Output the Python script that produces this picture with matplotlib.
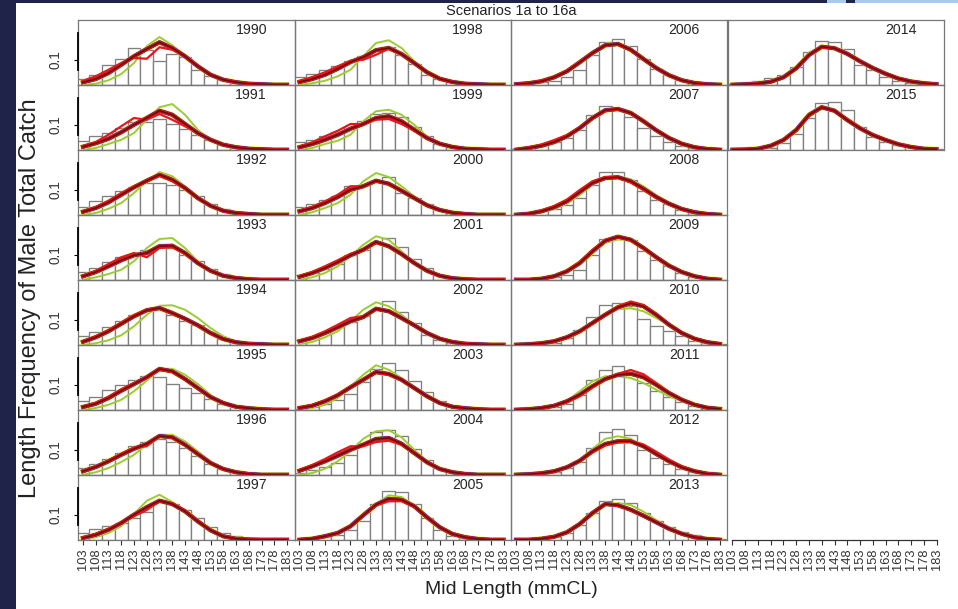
import matplotlib.pyplot as plt
from matplotlib.patches import Rectangle

plt.rcParams['font.family'] = ['Liberation Sans', 'DejaVu Sans']

W, H = 958, 609

# length bins (mm carapace length) and survey years
lengths = [103, 108, 113, 118, 123, 128, 133, 138, 143, 148, 153, 158, 163, 168, 173, 178, 183]
years = list(range(1990, 2016))

# observed proportions at length, one row per year
obs_freq = [
    [0.024, 0.041, 0.082, 0.106, 0.148, 0.140, 0.095, 0.124, 0.114, 0.062, 0.035, 0.021, 0.011, 0.005, 0.003, 0.001, 0.001],  # 1990
    [0.037, 0.056, 0.067, 0.089, 0.113, 0.111, 0.125, 0.105, 0.083, 0.062, 0.040, 0.022, 0.012, 0.006, 0.003, 0.001, 0.001],  # 1991
    [0.033, 0.055, 0.075, 0.095, 0.112, 0.128, 0.128, 0.121, 0.101, 0.075, 0.045, 0.024, 0.012, 0.005, 0.003, 0.001, 0.001],  # 1992
    [0.032, 0.048, 0.072, 0.091, 0.101, 0.121, 0.131, 0.128, 0.101, 0.075, 0.045, 0.024, 0.011, 0.005, 0.003, 0.001, 0.001],  # 1993
    [0.035, 0.051, 0.071, 0.095, 0.121, 0.135, 0.141, 0.119, 0.097, 0.081, 0.051, 0.024, 0.011, 0.004, 0.002, 0.001, 0.001],  # 1994
    [0.035, 0.052, 0.079, 0.101, 0.121, 0.137, 0.132, 0.105, 0.088, 0.068, 0.044, 0.024, 0.011, 0.004, 0.002, 0.001, 0.001],  # 1995
    [0.028, 0.045, 0.064, 0.088, 0.115, 0.131, 0.145, 0.132, 0.108, 0.077, 0.045, 0.024, 0.011, 0.004, 0.002, 0.001, 0.001],  # 1996
    [0.030, 0.043, 0.057, 0.069, 0.089, 0.111, 0.153, 0.144, 0.120, 0.090, 0.053, 0.030, 0.015, 0.006, 0.002, 0.001, 0.001],  # 1997
    [0.031, 0.044, 0.059, 0.075, 0.095, 0.115, 0.138, 0.151, 0.121, 0.084, 0.041, 0.024, 0.012, 0.005, 0.002, 0.001, 0.001],  # 1998
    [0.031, 0.041, 0.055, 0.071, 0.088, 0.115, 0.145, 0.148, 0.131, 0.092, 0.055, 0.024, 0.011, 0.004, 0.002, 0.001, 0.001],  # 1999
    [0.031, 0.045, 0.061, 0.077, 0.115, 0.121, 0.135, 0.151, 0.090, 0.070, 0.045, 0.022, 0.011, 0.005, 0.002, 0.001, 0.001],  # 2000
    [0.021, 0.028, 0.045, 0.065, 0.099, 0.121, 0.152, 0.167, 0.133, 0.085, 0.047, 0.021, 0.010, 0.004, 0.002, 0.001, 0.001],  # 2001
    [0.021, 0.031, 0.048, 0.071, 0.092, 0.115, 0.140, 0.177, 0.132, 0.088, 0.041, 0.021, 0.010, 0.004, 0.002, 0.001, 0.001],  # 2002
    [0.004, 0.011, 0.024, 0.039, 0.065, 0.111, 0.165, 0.188, 0.161, 0.115, 0.071, 0.035, 0.015, 0.006, 0.002, 0.001, 0.001],  # 2003
    [0.008, 0.021, 0.032, 0.048, 0.081, 0.128, 0.172, 0.179, 0.155, 0.104, 0.059, 0.028, 0.012, 0.004, 0.002, 0.001, 0.001],  # 2004
    [0.001, 0.005, 0.011, 0.021, 0.039, 0.075, 0.144, 0.197, 0.191, 0.145, 0.088, 0.041, 0.017, 0.007, 0.003, 0.001, 0.001],  # 2005
    [0.001, 0.004, 0.011, 0.017, 0.031, 0.061, 0.121, 0.172, 0.185, 0.155, 0.104, 0.065, 0.041, 0.021, 0.011, 0.005, 0.002],  # 2006
    [0.003, 0.011, 0.021, 0.032, 0.048, 0.081, 0.139, 0.177, 0.163, 0.133, 0.087, 0.056, 0.033, 0.017, 0.008, 0.003, 0.001],  # 2007
    [0.002, 0.008, 0.019, 0.024, 0.039, 0.068, 0.121, 0.172, 0.172, 0.141, 0.097, 0.061, 0.045, 0.021, 0.008, 0.003, 0.001],  # 2008
    [0.001, 0.002, 0.004, 0.011, 0.021, 0.041, 0.101, 0.164, 0.177, 0.161, 0.115, 0.081, 0.055, 0.028, 0.012, 0.004, 0.002],  # 2009
    [0.001, 0.002, 0.004, 0.008, 0.028, 0.061, 0.111, 0.159, 0.168, 0.155, 0.105, 0.075, 0.055, 0.035, 0.017, 0.008, 0.003],  # 2010
    [0.001, 0.002, 0.004, 0.011, 0.024, 0.061, 0.121, 0.161, 0.175, 0.145, 0.108, 0.075, 0.051, 0.032, 0.015, 0.005, 0.002],  # 2011
    [0.001, 0.002, 0.004, 0.011, 0.028, 0.052, 0.108, 0.171, 0.184, 0.159, 0.101, 0.068, 0.045, 0.024, 0.011, 0.004, 0.002],  # 2012
    [0.001, 0.002, 0.005, 0.013, 0.030, 0.060, 0.109, 0.157, 0.164, 0.147, 0.107, 0.077, 0.053, 0.033, 0.020, 0.009, 0.005],  # 2013
    [0.004, 0.009, 0.017, 0.027, 0.040, 0.073, 0.133, 0.177, 0.173, 0.144, 0.080, 0.061, 0.033, 0.017, 0.009, 0.004, 0.002],  # 2014
    [0.001, 0.002, 0.004, 0.010, 0.029, 0.063, 0.127, 0.187, 0.193, 0.160, 0.093, 0.053, 0.033, 0.020, 0.012, 0.006, 0.003],  # 2015
]

# predicted proportions, main bundle of scenarios
fit_freq = [
    [0.011, 0.024, 0.048, 0.081, 0.115, 0.144, 0.171, 0.148, 0.115, 0.075, 0.041, 0.021, 0.011, 0.005, 0.003, 0.001, 0.001],  # 1990
    [0.013, 0.027, 0.045, 0.071, 0.101, 0.128, 0.157, 0.141, 0.104, 0.068, 0.041, 0.021, 0.011, 0.005, 0.003, 0.001, 0.001],  # 1991
    [0.013, 0.028, 0.051, 0.081, 0.111, 0.137, 0.161, 0.141, 0.108, 0.068, 0.037, 0.017, 0.008, 0.004, 0.001, 0.001, 0.001],  # 1992
    [0.015, 0.032, 0.055, 0.079, 0.099, 0.108, 0.135, 0.137, 0.108, 0.068, 0.037, 0.017, 0.008, 0.003, 0.001, 0.001, 0.001],  # 1993
    [0.013, 0.031, 0.055, 0.085, 0.115, 0.139, 0.148, 0.128, 0.105, 0.079, 0.048, 0.024, 0.011, 0.005, 0.003, 0.001, 0.001],  # 1994
    [0.012, 0.025, 0.048, 0.077, 0.104, 0.131, 0.164, 0.155, 0.124, 0.088, 0.052, 0.028, 0.013, 0.007, 0.003, 0.001, 0.001],  # 1995
    [0.015, 0.032, 0.055, 0.081, 0.105, 0.124, 0.156, 0.151, 0.121, 0.084, 0.048, 0.024, 0.011, 0.004, 0.001, 0.001, 0.001],  # 1996
    [0.008, 0.021, 0.041, 0.068, 0.101, 0.131, 0.157, 0.144, 0.115, 0.075, 0.039, 0.015, 0.005, 0.002, 0.001, 0.001, 0.001],  # 1997
    [0.012, 0.024, 0.041, 0.065, 0.092, 0.111, 0.139, 0.148, 0.124, 0.088, 0.051, 0.025, 0.012, 0.005, 0.003, 0.001, 0.001],  # 1998
    [0.011, 0.024, 0.041, 0.061, 0.085, 0.104, 0.128, 0.135, 0.115, 0.081, 0.048, 0.025, 0.012, 0.005, 0.003, 0.001, 0.001],  # 1999
    [0.015, 0.028, 0.048, 0.072, 0.101, 0.115, 0.137, 0.125, 0.097, 0.068, 0.039, 0.020, 0.009, 0.004, 0.001, 0.001, 0.001],  # 2000
    [0.013, 0.028, 0.048, 0.072, 0.099, 0.121, 0.152, 0.135, 0.104, 0.068, 0.037, 0.017, 0.007, 0.003, 0.001, 0.001, 0.001],  # 2001
    [0.015, 0.028, 0.048, 0.071, 0.095, 0.112, 0.145, 0.135, 0.108, 0.079, 0.048, 0.025, 0.012, 0.005, 0.003, 0.001, 0.001],  # 2002
    [0.008, 0.017, 0.035, 0.059, 0.091, 0.121, 0.152, 0.144, 0.121, 0.088, 0.055, 0.028, 0.013, 0.007, 0.003, 0.001, 0.001],  # 2003
    [0.017, 0.035, 0.055, 0.077, 0.101, 0.121, 0.144, 0.148, 0.125, 0.088, 0.051, 0.024, 0.011, 0.004, 0.001, 0.001, 0.001],  # 2004
    [0.001, 0.005, 0.015, 0.028, 0.055, 0.099, 0.141, 0.165, 0.161, 0.135, 0.091, 0.051, 0.024, 0.011, 0.004, 0.001, 0.001],  # 2005
    [0.003, 0.007, 0.015, 0.031, 0.055, 0.091, 0.128, 0.159, 0.164, 0.141, 0.104, 0.068, 0.039, 0.019, 0.008, 0.003, 0.001],  # 2006
    [0.001, 0.008, 0.017, 0.032, 0.055, 0.088, 0.128, 0.159, 0.164, 0.148, 0.115, 0.079, 0.048, 0.025, 0.011, 0.004, 0.001],  # 2007
    [0.001, 0.005, 0.015, 0.031, 0.055, 0.092, 0.128, 0.148, 0.151, 0.135, 0.105, 0.072, 0.045, 0.024, 0.011, 0.004, 0.001],  # 2008
    [0.001, 0.001, 0.005, 0.015, 0.035, 0.068, 0.115, 0.157, 0.173, 0.161, 0.128, 0.091, 0.057, 0.032, 0.015, 0.005, 0.001],  # 2009
    [0.001, 0.003, 0.007, 0.015, 0.031, 0.055, 0.088, 0.121, 0.151, 0.167, 0.155, 0.121, 0.081, 0.048, 0.025, 0.011, 0.004],  # 2010
    [0.001, 0.003, 0.008, 0.017, 0.035, 0.061, 0.095, 0.124, 0.141, 0.145, 0.131, 0.101, 0.068, 0.041, 0.021, 0.009, 0.004],  # 2011
    [0.001, 0.003, 0.007, 0.015, 0.031, 0.057, 0.095, 0.124, 0.135, 0.135, 0.115, 0.084, 0.055, 0.031, 0.015, 0.005, 0.001],  # 2012
    [0.001, 0.001, 0.005, 0.013, 0.031, 0.064, 0.108, 0.144, 0.139, 0.121, 0.097, 0.071, 0.045, 0.025, 0.011, 0.004, 0.001],  # 2013
    [0.001, 0.003, 0.006, 0.013, 0.031, 0.067, 0.120, 0.153, 0.147, 0.125, 0.095, 0.068, 0.045, 0.026, 0.014, 0.007, 0.003],  # 2014
    [0.001, 0.002, 0.005, 0.017, 0.040, 0.080, 0.140, 0.171, 0.157, 0.120, 0.087, 0.060, 0.040, 0.023, 0.012, 0.005, 0.003],  # 2015
]

# scenario drawn in yellow-green
green_freq = [
    [0.001, 0.005, 0.019, 0.044, 0.088, 0.155, 0.192, 0.159, 0.119, 0.071, 0.039, 0.019, 0.008, 0.004, 0.001, 0.001, 0.001],  # 1990
    [0.001, 0.008, 0.024, 0.041, 0.068, 0.121, 0.171, 0.184, 0.141, 0.081, 0.041, 0.019, 0.008, 0.004, 0.001, 0.001, 0.001],  # 1991
    [0.001, 0.008, 0.025, 0.048, 0.088, 0.135, 0.172, 0.155, 0.115, 0.068, 0.035, 0.016, 0.007, 0.003, 0.001, 0.001, 0.001],  # 1992
    [0.001, 0.011, 0.024, 0.041, 0.075, 0.128, 0.164, 0.168, 0.128, 0.075, 0.035, 0.013, 0.005, 0.003, 0.001, 0.001, 0.001],  # 1993
    [0.001, 0.007, 0.019, 0.039, 0.075, 0.121, 0.157, 0.159, 0.141, 0.108, 0.068, 0.035, 0.015, 0.005, 0.003, 0.001, 0.001],  # 1994
    [0.001, 0.008, 0.021, 0.041, 0.075, 0.117, 0.165, 0.165, 0.141, 0.104, 0.061, 0.028, 0.011, 0.004, 0.001, 0.001, 0.001],  # 1995
    [0.001, 0.011, 0.028, 0.052, 0.081, 0.121, 0.161, 0.161, 0.135, 0.095, 0.055, 0.025, 0.009, 0.004, 0.001, 0.001, 0.001],  # 1996
    [0.001, 0.011, 0.028, 0.055, 0.104, 0.157, 0.181, 0.152, 0.108, 0.068, 0.035, 0.013, 0.005, 0.002, 0.001, 0.001, 0.001],  # 1997
    [0.001, 0.007, 0.017, 0.035, 0.061, 0.115, 0.168, 0.179, 0.148, 0.095, 0.048, 0.021, 0.009, 0.004, 0.001, 0.001, 0.001],  # 1998
    [0.001, 0.008, 0.024, 0.037, 0.061, 0.115, 0.155, 0.161, 0.141, 0.101, 0.055, 0.024, 0.009, 0.004, 0.001, 0.001, 0.001],  # 1999
    [0.001, 0.011, 0.028, 0.048, 0.081, 0.135, 0.168, 0.152, 0.115, 0.075, 0.039, 0.017, 0.008, 0.003, 0.001, 0.001, 0.001],  # 2000
    [0.001, 0.011, 0.028, 0.055, 0.095, 0.141, 0.175, 0.161, 0.115, 0.068, 0.035, 0.015, 0.005, 0.003, 0.001, 0.001, 0.001],  # 2001
    [0.004, 0.012, 0.031, 0.055, 0.095, 0.141, 0.171, 0.155, 0.121, 0.081, 0.044, 0.021, 0.009, 0.004, 0.001, 0.001, 0.001],  # 2002
    [0.003, 0.008, 0.021, 0.048, 0.095, 0.141, 0.179, 0.161, 0.128, 0.088, 0.051, 0.024, 0.011, 0.004, 0.001, 0.001, 0.001],  # 2003
    [0.001, 0.008, 0.025, 0.055, 0.095, 0.145, 0.175, 0.179, 0.151, 0.101, 0.055, 0.024, 0.009, 0.004, 0.001, 0.001, 0.001],  # 2004
    [0.001, 0.003, 0.011, 0.024, 0.048, 0.095, 0.145, 0.179, 0.172, 0.140, 0.091, 0.048, 0.021, 0.008, 0.003, 0.001, 0.001],  # 2005
    [0.002, 0.005, 0.012, 0.027, 0.052, 0.088, 0.125, 0.157, 0.166, 0.145, 0.107, 0.070, 0.040, 0.020, 0.008, 0.003, 0.001],  # 2006
    [0.001, 0.006, 0.014, 0.028, 0.052, 0.088, 0.130, 0.160, 0.165, 0.148, 0.115, 0.080, 0.049, 0.026, 0.011, 0.004, 0.001],  # 2007
    [0.001, 0.003, 0.010, 0.023, 0.045, 0.080, 0.120, 0.148, 0.155, 0.143, 0.115, 0.080, 0.050, 0.027, 0.012, 0.005, 0.002],  # 2008
    [0.001, 0.001, 0.004, 0.012, 0.030, 0.060, 0.105, 0.148, 0.162, 0.158, 0.130, 0.095, 0.062, 0.035, 0.017, 0.006, 0.002],  # 2009
    [0.001, 0.003, 0.008, 0.017, 0.034, 0.060, 0.093, 0.122, 0.143, 0.147, 0.135, 0.108, 0.078, 0.050, 0.028, 0.013, 0.005],  # 2010
    [0.001, 0.003, 0.008, 0.020, 0.037, 0.075, 0.115, 0.135, 0.135, 0.128, 0.108, 0.081, 0.055, 0.035, 0.019, 0.009, 0.004],  # 2011
    [0.001, 0.003, 0.007, 0.016, 0.033, 0.062, 0.105, 0.145, 0.155, 0.145, 0.115, 0.080, 0.050, 0.028, 0.013, 0.005, 0.002],  # 2012
    [0.001, 0.001, 0.004, 0.012, 0.028, 0.058, 0.100, 0.138, 0.148, 0.140, 0.113, 0.080, 0.050, 0.027, 0.012, 0.004, 0.001],  # 2013
    [0.001, 0.003, 0.007, 0.016, 0.036, 0.075, 0.130, 0.155, 0.143, 0.120, 0.092, 0.065, 0.043, 0.026, 0.014, 0.007, 0.003],  # 2014
    [0.001, 0.002, 0.006, 0.018, 0.043, 0.088, 0.148, 0.175, 0.152, 0.115, 0.082, 0.056, 0.037, 0.021, 0.011, 0.005, 0.002],  # 2015
]

# scenario drawn in bright red
red_freq = [
    [0.017, 0.035, 0.061, 0.088, 0.108, 0.105, 0.151, 0.141, 0.117, 0.075, 0.041, 0.021, 0.011, 0.005, 0.003, 0.001, 0.001],  # 1990
    [0.015, 0.032, 0.061, 0.095, 0.128, 0.121, 0.144, 0.121, 0.095, 0.068, 0.041, 0.021, 0.011, 0.005, 0.003, 0.001, 0.001],  # 1991
    [0.015, 0.032, 0.057, 0.088, 0.115, 0.135, 0.156, 0.135, 0.105, 0.068, 0.038, 0.018, 0.008, 0.004, 0.001, 0.001, 0.001],  # 1992
    [0.017, 0.037, 0.064, 0.091, 0.108, 0.091, 0.128, 0.131, 0.104, 0.068, 0.037, 0.017, 0.008, 0.003, 0.001, 0.001, 0.001],  # 1993
    [0.015, 0.035, 0.060, 0.090, 0.120, 0.140, 0.145, 0.125, 0.103, 0.078, 0.048, 0.024, 0.011, 0.005, 0.003, 0.001, 0.001],  # 1994
    [0.014, 0.029, 0.053, 0.083, 0.108, 0.128, 0.160, 0.152, 0.122, 0.087, 0.052, 0.028, 0.013, 0.006, 0.003, 0.001, 0.001],  # 1995
    [0.016, 0.034, 0.058, 0.085, 0.110, 0.115, 0.155, 0.148, 0.120, 0.084, 0.048, 0.024, 0.011, 0.004, 0.001, 0.001, 0.001],  # 1996
    [0.010, 0.024, 0.045, 0.070, 0.095, 0.120, 0.155, 0.145, 0.118, 0.078, 0.040, 0.016, 0.006, 0.002, 0.001, 0.001, 0.001],  # 1997
    [0.017, 0.032, 0.051, 0.075, 0.097, 0.101, 0.121, 0.145, 0.124, 0.088, 0.051, 0.025, 0.012, 0.005, 0.003, 0.001, 0.001],  # 1998
    [0.015, 0.031, 0.055, 0.077, 0.104, 0.104, 0.121, 0.124, 0.104, 0.077, 0.047, 0.025, 0.012, 0.005, 0.003, 0.001, 0.001],  # 1999
    [0.017, 0.033, 0.055, 0.081, 0.115, 0.115, 0.135, 0.125, 0.097, 0.068, 0.039, 0.020, 0.009, 0.004, 0.001, 0.001, 0.001],  # 2000
    [0.015, 0.032, 0.055, 0.079, 0.105, 0.118, 0.148, 0.133, 0.103, 0.068, 0.037, 0.017, 0.007, 0.003, 0.001, 0.001, 0.001],  # 2001
    [0.017, 0.033, 0.055, 0.081, 0.108, 0.115, 0.145, 0.135, 0.108, 0.079, 0.048, 0.025, 0.012, 0.005, 0.003, 0.001, 0.001],  # 2002
    [0.010, 0.020, 0.038, 0.062, 0.093, 0.120, 0.148, 0.142, 0.120, 0.088, 0.055, 0.028, 0.013, 0.006, 0.003, 0.001, 0.001],  # 2003
    [0.020, 0.040, 0.064, 0.091, 0.115, 0.115, 0.132, 0.137, 0.121, 0.088, 0.051, 0.024, 0.011, 0.004, 0.001, 0.001, 0.001],  # 2004
    [0.001, 0.005, 0.015, 0.029, 0.056, 0.100, 0.138, 0.155, 0.155, 0.133, 0.091, 0.052, 0.025, 0.011, 0.004, 0.001, 0.001],  # 2005
    [0.003, 0.008, 0.017, 0.033, 0.058, 0.094, 0.130, 0.158, 0.161, 0.139, 0.103, 0.068, 0.039, 0.019, 0.008, 0.003, 0.001],  # 2006
    [0.002, 0.010, 0.022, 0.040, 0.060, 0.090, 0.125, 0.155, 0.162, 0.147, 0.115, 0.079, 0.048, 0.025, 0.011, 0.004, 0.001],  # 2007
    [0.001, 0.006, 0.018, 0.036, 0.062, 0.100, 0.135, 0.152, 0.149, 0.130, 0.100, 0.068, 0.042, 0.022, 0.010, 0.004, 0.001],  # 2008
    [0.001, 0.001, 0.005, 0.016, 0.037, 0.072, 0.120, 0.160, 0.174, 0.158, 0.124, 0.088, 0.055, 0.031, 0.014, 0.005, 0.001],  # 2009
    [0.001, 0.002, 0.006, 0.013, 0.028, 0.052, 0.085, 0.120, 0.155, 0.174, 0.160, 0.124, 0.082, 0.047, 0.023, 0.010, 0.003],  # 2010
    [0.001, 0.002, 0.006, 0.015, 0.030, 0.055, 0.090, 0.122, 0.145, 0.160, 0.143, 0.108, 0.070, 0.040, 0.020, 0.008, 0.003],  # 2011
    [0.001, 0.002, 0.006, 0.014, 0.030, 0.055, 0.090, 0.118, 0.130, 0.135, 0.122, 0.093, 0.062, 0.035, 0.017, 0.007, 0.002],  # 2012
    [0.001, 0.001, 0.005, 0.014, 0.033, 0.066, 0.110, 0.145, 0.137, 0.119, 0.096, 0.071, 0.045, 0.025, 0.011, 0.004, 0.001],  # 2013
    [0.001, 0.003, 0.006, 0.014, 0.032, 0.066, 0.118, 0.150, 0.147, 0.126, 0.096, 0.068, 0.044, 0.026, 0.014, 0.007, 0.003],  # 2014
    [0.001, 0.002, 0.005, 0.016, 0.038, 0.078, 0.137, 0.170, 0.158, 0.123, 0.089, 0.061, 0.040, 0.023, 0.012, 0.005, 0.003],  # 2015
]

# panel grid in pixels
LEFT, TOP, PW, PH = 78, 20, 216.5, 65
NROW = 8
XLIM = (101.04, 185.94)
YLIM = (0, 0.26)
EDGE = '#777777'

fig = plt.figure(figsize=(W / 100, H / 100), dpi=100)
fig.patch.set_facecolor('#1f2249')
# white slide area plus the light strips at the top right
fig.add_artist(Rectangle((16 / W, 0), 1 - 16 / W, (H - 3) / H, transform=fig.transFigure,
                         facecolor='white', edgecolor='none', zorder=0))
fig.add_artist(Rectangle((827 / W, (H - 3) / H), 19 / W, 3 / H, transform=fig.transFigure,
                         facecolor='#abc8f2', edgecolor='none', zorder=0))
fig.add_artist(Rectangle((855 / W, (H - 3) / H), 103 / W, 3 / H, transform=fig.transFigure,
                         facecolor='#abc8f2', edgecolor='none', zorder=0))


def make_axes(col, row):
    left = LEFT + PW * col
    top = TOP + PH * row
    ax = fig.add_axes([left / W, 1 - (top + PH) / H, PW / W, PH / H])
    ax.set_xlim(*XLIM)
    ax.set_ylim(*YLIM)
    ax.set_facecolor('none')
    ax.set_xticks([])
    ax.set_yticks([])
    return ax


def bottom_axis(ax):
    ax.set_xticks(lengths)
    ax.set_xticklabels([str(v) for v in lengths], rotation=90, fontsize=9.3, color='#333333')
    ax.tick_params(axis='x', direction='out', length=3.5, width=0.8, color='#333333', pad=2.5)


for i, year in enumerate(years):
    col, row = divmod(i, NROW)
    ax = make_axes(col, row)

    ax.bar(lengths, obs_freq[i], width=5, color='white', edgecolor='#808080', linewidth=0.95, zorder=1)

    # bundle of scenario fits
    ax.plot(lengths, green_freq[i], color='#9acd32', lw=1.4, zorder=2)
    ax.plot(lengths, fit_freq[i], color='#ffe000', lw=3.6, zorder=2)
    ax.plot(lengths, fit_freq[i], color='#2a2ab8', lw=2.9, zorder=3)
    ax.plot(lengths, fit_freq[i], color='#7b1fa2', lw=2.6, zorder=3)
    ax.plot(lengths, fit_freq[i], color='#d81818', lw=2.3, zorder=4)
    ax.plot(lengths, red_freq[i], color='#e8161b', lw=1.6, zorder=5)
    ax.plot(lengths, fit_freq[i], color='#6e0b0b', lw=1.2, zorder=6)

    ax.text(0.80, 0.84, str(year), transform=ax.transAxes, ha='center', va='center',
            fontsize=10.2, color='#262626')

    for s in ax.spines.values():
        s.set_color(EDGE)
        s.set_linewidth(0.9)

    if col == 0:
        ax.set_yticks([0.1])
        ax.set_yticklabels(['0.1'], rotation=90, va='center', fontsize=9.8, color='#333333')
        ax.tick_params(axis='y', direction='out', length=3, width=0.8, pad=8)
        ax.plot([XLIM[0], XLIM[0]], [0.06, 0.21], color='black', lw=1.3, clip_on=False, zorder=7)
    if row == NROW - 1:
        bottom_axis(ax)

# empty last column: axis only
ax = make_axes(3, NROW - 1)
for name, s in ax.spines.items():
    s.set_visible(name == 'bottom')
ax.spines['bottom'].set_bounds(lengths[0], lengths[-1])
ax.spines['bottom'].set_color('#333333')
ax.spines['bottom'].set_linewidth(0.9)
bottom_axis(ax)

fig.text(511 / W, 1 - 11 / H, 'Scenarios 1a to 16a', ha='center', va='center', fontsize=10.5, color='#222222')
fig.text(30 / W, 1 - 298 / H, 'Length Frequency of Male Total Catch', rotation=90,
         ha='center', va='center', fontsize=17, color='#222222')
fig.text(511 / W, 1 - 590 / H, 'Mid Length (mmCL)', ha='center', va='center', fontsize=14, color='#222222')

fig.savefig('out.png', dpi=100, facecolor=fig.get_facecolor())
